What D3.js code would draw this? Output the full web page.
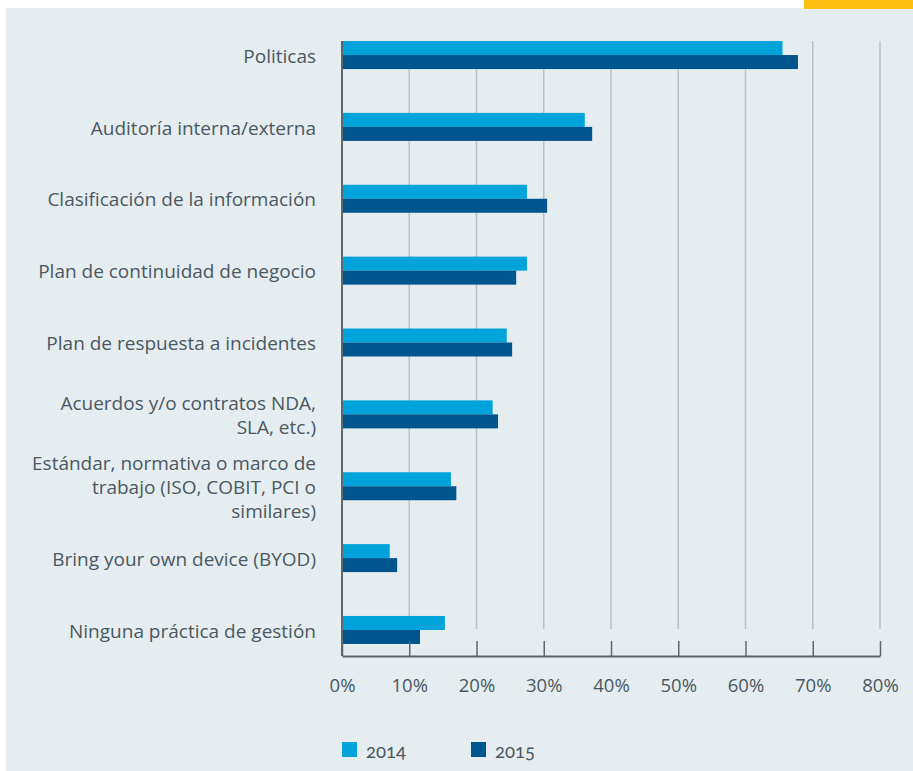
<!DOCTYPE html>
<html>
<head>
<meta charset="utf-8">
<script src="https://cdn.jsdelivr.net/npm/d3@7"></script>
<style>
  body { margin: 0; background: #ffffff; }
  svg { display: block; font-family: "Open Sans", Lato, sans-serif; }
</style>
</head>
<body>
<svg id="chart" width="913" height="771"></svg>
<script>
// categorías (cada una partida en líneas como en el original)
const categories = [
  ["Politicas"],
  ["Auditoría interna/externa"],
  ["Clasificación de la información"],
  ["Plan de continuidad de negocio"],
  ["Plan de respuesta a incidentes"],
  ["Acuerdos y/o contratos NDA,", "SLA, etc.)"],
  ["Estándar, normativa o marco de", "trabajo (ISO, COBIT, PCI o", "similares)"],
  ["Bring your own device (BYOD)"],
  ["Ninguna práctica de gestión"]
];
const series = ["2014", "2015"];
const values2014 = [65.5, 36.1, 27.5, 27.5, 24.5, 22.4, 16.2, 7.1, 15.3];
const values2015 = [67.8, 37.2, 30.5, 25.9, 25.3, 23.2, 17.0, 8.2, 11.6];
const xTicks = [0, 10, 20, 30, 40, 50, 60, 70, 80];

const colors = { "2014": "#00a3da", "2015": "#00558f" };
const textColor = "#4b5862";

const svg = d3.select("#chart");

// fondo y barra amarilla
svg.append("rect").attr("x", 6).attr("y", 8).attr("width", 907).attr("height", 763).attr("fill", "#e5edf0");
svg.append("rect").attr("x", 804).attr("y", 0).attr("width", 109).attr("height", 9).attr("fill", "#fdbf12");

const catKeys = categories.map(d => d.join(" "));
const x = d3.scaleLinear().domain([0, 80]).range([342, 880]);
const y = d3.scaleBand().domain(catKeys).range([19.1, 665.9]).padding(0);
const ySub = d3.scaleBand().domain(series).range([y.bandwidth() / 2 - 14, y.bandwidth() / 2 + 14]);

const gridTop = 41, gridBottom = 629, axisY = 656;

// líneas de la cuadrícula
svg.append("g")
  .selectAll("line")
  .data(xTicks.filter(d => d > 0))
  .join("line")
  .attr("x1", d => x(d)).attr("x2", d => x(d))
  .attr("y1", gridTop).attr("y2", gridBottom)
  .attr("stroke", "#b9c1c5")
  .attr("stroke-width", 1.5);

// barras
const rows = catKeys.map((k, i) => ({ key: k, "2014": values2014[i], "2015": values2015[i] }));
const groups = svg.append("g")
  .selectAll("g")
  .data(rows)
  .join("g")
  .attr("transform", d => `translate(0,${y(d.key)})`);

groups.selectAll("rect")
  .data(d => series.map(s => ({ s, v: d[s] })))
  .join("rect")
  .attr("x", x(0))
  .attr("y", d => ySub(d.s))
  .attr("width", d => x(d.v) - x(0))
  .attr("height", ySub.bandwidth())
  .attr("fill", d => colors[d.s]);

// eje x
const xAxis = d3.axisBottom(x)
  .tickValues(xTicks)
  .tickSizeInner(-15)
  .tickSizeOuter(0)
  .tickPadding(23)
  .tickFormat(d => d + "%");

const gx = svg.append("g")
  .attr("transform", `translate(0,${axisY})`)
  .call(xAxis);
gx.select(".domain").attr("stroke", "#5c6770").attr("stroke-width", 2);
gx.selectAll(".tick line").attr("stroke", "#5c6770").attr("stroke-width", 1.5);
gx.selectAll(".tick text")
  .attr("fill", textColor)
  .attr("font-size", 18.5)
  .attr("font-family", "'Open Sans', sans-serif");

// eje vertical
svg.append("line")
  .attr("x1", x(0)).attr("x2", x(0))
  .attr("y1", gridTop).attr("y2", axisY)
  .attr("stroke", "#5c6770")
  .attr("stroke-width", 2);

// etiquetas de categoría
const labels = svg.append("g")
  .selectAll("text")
  .data(categories)
  .join("text")
  .attr("text-anchor", "end")
  .attr("fill", textColor)
  .attr("font-size", 19)
  .attr("transform", (d, i) => `translate(316,${y(catKeys[i]) + y.bandwidth() / 2 + 1})`);

labels.selectAll("tspan")
  .data(d => d.map((line, j) => ({ line, j, n: d.length })))
  .join("tspan")
  .attr("x", 0)
  .attr("y", d => (d.j - (d.n - 1) / 2) * 23.8)
  .attr("dy", "0.35em")
  .text(d => d.line);

// leyenda
const legend = svg.append("g")
  .selectAll("g")
  .data(series)
  .join("g")
  .attr("transform", (d, i) => `translate(${342 + i * 129},742)`);

legend.append("rect")
  .attr("width", 15).attr("height", 15)
  .attr("fill", d => colors[d]);

legend.append("text")
  .attr("x", 24)
  .attr("y", 15.5)
  .attr("fill", textColor)
  .attr("font-size", 18.5)
  .attr("font-family", "Lato, sans-serif")
  .style("font-variant-numeric", "oldstyle-nums")
  .text(d => d);
</script>
</body>
</html>
